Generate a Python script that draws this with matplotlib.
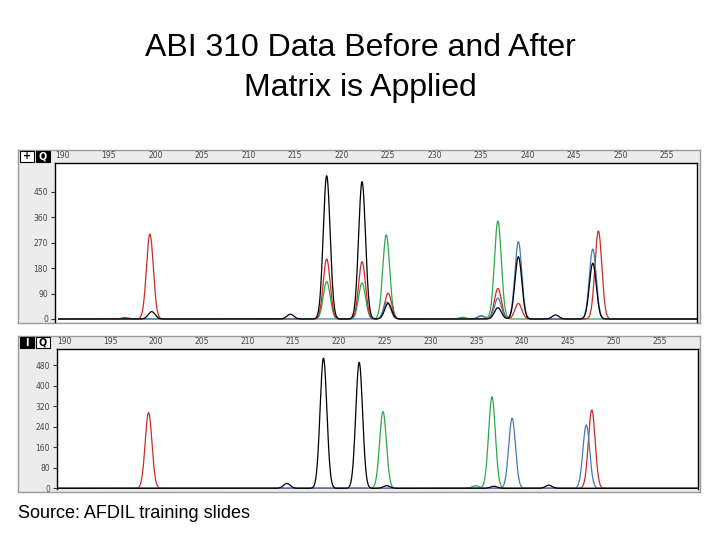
import numpy as np
import matplotlib
matplotlib.use("Agg")
import matplotlib.pyplot as plt
from matplotlib.patches import Rectangle

# peak positions (bp) and heights (rfu)
# -- top panel: raw data, before the matrix is applied
top_black_pos = [200.4, 215.3, 219.2, 223.0, 225.8, 237.6, 239.8, 243.8, 247.8]
top_black_hgt = [26, 17, 506, 485, 55, 40, 220, 14, 197]
top_red_pos = [197.5, 200.2, 219.2, 223.0, 225.8, 237.6, 239.8, 248.4]
top_red_hgt = [5, 300, 212, 202, 91, 108, 55, 311]
top_green_pos = [219.2, 223.0, 225.6, 233.8, 235.8, 237.6]
top_green_hgt = [132, 127, 297, 6, 10, 346]
top_blue_pos = [225.7, 235.8, 237.6, 239.8, 247.8]
top_blue_hgt = [60, 12, 74, 273, 247]

# -- bottom panel: after the matrix is applied
bot_black_pos = [215.1, 219.1, 223.0, 226.0, 237.7, 243.7]
bot_black_hgt = [19, 507, 491, 10, 8, 12]
bot_red_pos = [200.0, 248.4]
bot_red_hgt = [295, 305]
bot_green_pos = [225.6, 235.7, 237.5]
bot_green_hgt = [299, 10, 357]
bot_blue_pos = [239.7, 247.8]
bot_blue_hgt = [273, 247]

top_xticks = [190, 195, 200, 205, 210, 215, 220, 225, 230, 235, 240, 245, 250, 255]
bot_xticks = [190, 195, 200, 205, 210, 215, 220, 225, 230, 235, 240, 245, 250, 255]
top_yticks = [0, 90, 180, 270, 360, 450]
bot_yticks = [0, 80, 160, 240, 320, 400, 480]

COLORS = {"black": "#000000", "red": "#cc2a2a", "green": "#2ea84a", "blue": "#4a78b8"}
W, H = 720, 540


def px_rect(x0, y0, x1, y1):
    return [x0 / W, 1 - y1 / H, (x1 - x0) / W, (y1 - y0) / H]


def trace(x, pos, hgt, sigma=0.37):
    y = np.zeros_like(x)
    for p, h in zip(pos, hgt):
        y += h * np.exp(-0.5 * ((x - p) / sigma) ** 2)
    return y


def panel(fig, frame, area, xlim, ylim, xticks, yticks, series, icons):
    fr = fig.add_axes(px_rect(*frame))
    fr.set_facecolor("#ececec")
    fr.set_xticks([])
    fr.set_yticks([])
    for s in fr.spines.values():
        s.set_color("#9a9a9a")
        s.set_linewidth(1)

    ax = fig.add_axes(px_rect(*area))
    ax.set_facecolor("white")
    for s in ax.spines.values():
        s.set_color("black")
        s.set_linewidth(1)
    ax.spines["bottom"].set_visible(False)

    x = np.linspace(xlim[0], xlim[1], 3000)
    for color, pos, hgt in series:
        ax.plot(x, trace(x, pos, hgt), color=COLORS[color], lw=0.9)

    ax.set_xlim(*xlim)
    ax.set_ylim(*ylim)
    ax.xaxis.tick_top()
    ax.set_xticks(xticks)
    ax.set_xticklabels([str(t) for t in xticks], ha="left")
    ax.tick_params(axis="x", length=0, pad=2, labelsize=5.5, labelcolor="#444444")
    ax.set_yticks(yticks)
    ax.set_yticklabels([str(t) for t in yticks])
    ax.tick_params(axis="y", length=3, direction="out", pad=2, labelsize=5.5,
                   labelcolor="#444444", color="#333333")

    # small toolbar icons in the header corner
    x0, y0 = frame[0] + 2, frame[1] + 1
    for i, (face, txt, tc) in enumerate(icons):
        r = Rectangle((x0 + i * 16, H - y0 - 11), 14, 11, transform=None,
                      facecolor=face, edgecolor="black", lw=0.8)
        fig.artists.append(r)
        r.set_figure(fig)
        fig.text((x0 + i * 16 + 7) / W, 1 - (y0 + 5.5) / H, txt, color=tc,
                 fontsize=7, ha="center", va="center", fontweight="bold")
    return ax


def main():
    fig = plt.figure(figsize=(7.2, 5.4), dpi=100)
    fig.patch.set_facecolor("white")

    fig.text(0.5, 1 - 48 / H, "ABI 310 Data Before and After", ha="center", va="center",
             fontsize=23, family="Liberation Sans")
    fig.text(0.5, 1 - 88 / H, "Matrix is Applied", ha="center", va="center",
             fontsize=23, family="Liberation Sans")

    panel(fig, (18, 150, 700, 323), (55, 163, 697, 322), (190.4, 259.0), (-10.6, 551),
          top_xticks, top_yticks,
          [("green", top_green_pos, top_green_hgt),
           ("red", top_red_pos, top_red_hgt),
           ("blue", top_blue_pos, top_blue_hgt),
           ("black", top_black_pos, top_black_hgt)],
          [("white", "+", "black"), ("black", "Q", "white")])

    panel(fig, (18, 336, 700, 492), (57, 349, 698, 489), (190.0, 260.0), (-2.7, 543),
          bot_xticks, bot_yticks,
          [("green", bot_green_pos, bot_green_hgt),
           ("red", bot_red_pos, bot_red_hgt),
           ("blue", bot_blue_pos, bot_blue_hgt),
           ("black", bot_black_pos, bot_black_hgt)],
          [("black", "I", "white"), ("white", "Q", "black")])

    fig.text(18 / W, 1 - 513 / H, "Source: AFDIL training slides", ha="left", va="center",
             fontsize=13, family="Liberation Sans")

    plt.savefig("out.png", dpi=100)


if __name__ == '__main__':
    main()
